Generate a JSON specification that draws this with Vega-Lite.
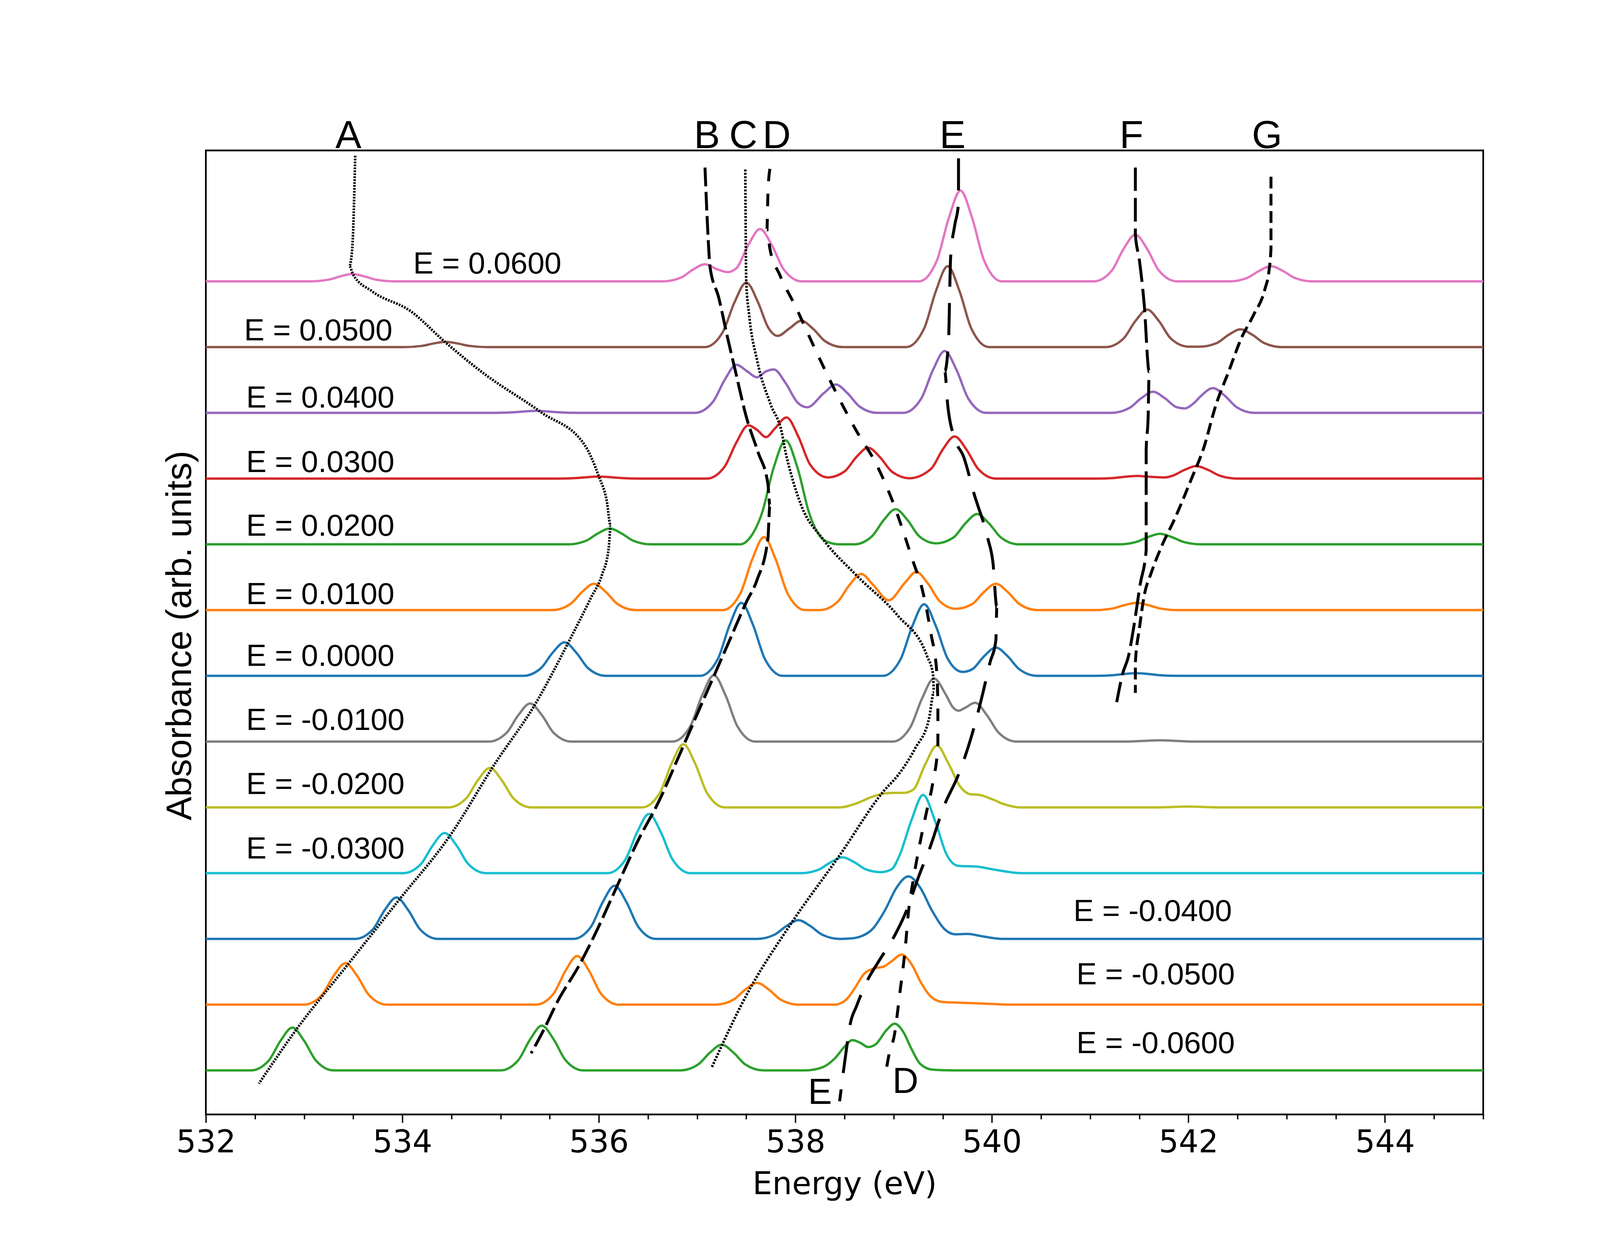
{
  "$schema": "https://vega.github.io/schema/vega-lite/v6.json",
  "width": 3270,
  "height": 2467,
  "autosize": {"type": "none"},
  "padding": {"left": 527, "top": 385, "right": 422, "bottom": 352},
  "background": "white",
  "config": {
    "view": {"stroke": "black", "strokeWidth": 4.3}
  },
  "datasets": {
    "spectra": [
      {"E":"0.0600","energy":532,"absorbance":12},{"E":"0.0600","energy":533.07,"absorbance":12},{"E":"0.0600","energy":533.25,"absorbance":12.025},{"E":"0.0600","energy":533.37,"absorbance":12.076},{"E":"0.0600","energy":533.49,"absorbance":12.11},{"E":"0.0600","energy":533.61,"absorbance":12.076},{"E":"0.0600","energy":533.73,"absorbance":12.025},{"E":"0.0600","energy":533.91,"absorbance":12},
      {"E":"0.0600","energy":536.66,"absorbance":12},{"E":"0.0600","energy":536.84,"absorbance":12.06},{"E":"0.0600","energy":536.96,"absorbance":12.18},{"E":"0.0600","energy":537.08,"absorbance":12.26},{"E":"0.0600","energy":537.2,"absorbance":12.186},{"E":"0.0600","energy":537.31,"absorbance":12.14},{"E":"0.0600","energy":537.4,"absorbance":12.2},{"E":"0.0600","energy":537.52,"absorbance":12.551},{"E":"0.0600","energy":537.64,"absorbance":12.795},{"E":"0.0600","energy":537.76,"absorbance":12.551},{"E":"0.0600","energy":537.88,"absorbance":12.183},{"E":"0.0600","energy":538.06,"absorbance":12},
      {"E":"0.0600","energy":539.26,"absorbance":12},{"E":"0.0600","energy":539.44,"absorbance":12.317},{"E":"0.0600","energy":539.56,"absorbance":12.956},{"E":"0.0600","energy":539.68,"absorbance":13.38},{"E":"0.0600","energy":539.8,"absorbance":12.956},{"E":"0.0600","energy":539.92,"absorbance":12.317},{"E":"0.0600","energy":540.1,"absorbance":12},
      {"E":"0.0600","energy":541.04,"absorbance":12},{"E":"0.0600","energy":541.22,"absorbance":12.163},{"E":"0.0600","energy":541.34,"absorbance":12.492},{"E":"0.0600","energy":541.46,"absorbance":12.71},{"E":"0.0600","energy":541.58,"absorbance":12.492},{"E":"0.0600","energy":541.7,"absorbance":12.163},{"E":"0.0600","energy":541.88,"absorbance":12},
      {"E":"0.0600","energy":542.42,"absorbance":12},{"E":"0.0600","energy":542.6,"absorbance":12.053},{"E":"0.0600","energy":542.72,"absorbance":12.159},{"E":"0.0600","energy":542.84,"absorbance":12.23},{"E":"0.0600","energy":542.96,"absorbance":12.159},{"E":"0.0600","energy":543.08,"absorbance":12.053},{"E":"0.0600","energy":543.26,"absorbance":12},{"E":"0.0600","energy":545,"absorbance":12},

      {"E":"0.0500","energy":532,"absorbance":11},{"E":"0.0500","energy":534.02,"absorbance":11},{"E":"0.0500","energy":534.2,"absorbance":11.018},{"E":"0.0500","energy":534.32,"absorbance":11.055},{"E":"0.0500","energy":534.44,"absorbance":11.08},{"E":"0.0500","energy":534.56,"absorbance":11.055},{"E":"0.0500","energy":534.68,"absorbance":11.018},{"E":"0.0500","energy":534.86,"absorbance":11},
      {"E":"0.0500","energy":537.08,"absorbance":11},{"E":"0.0500","energy":537.26,"absorbance":11.225},{"E":"0.0500","energy":537.38,"absorbance":11.68},{"E":"0.0500","energy":537.5,"absorbance":11.98},{"E":"0.0500","energy":537.62,"absorbance":11.68},{"E":"0.0500","energy":537.72,"absorbance":11.306},{"E":"0.0500","energy":537.82,"absorbance":11.17},{"E":"0.0500","energy":537.94,"absorbance":11.284},{"E":"0.0500","energy":538.06,"absorbance":11.4},{"E":"0.0500","energy":538.18,"absorbance":11.277},{"E":"0.0500","energy":538.3,"absorbance":11.092},{"E":"0.0500","energy":538.48,"absorbance":11},
      {"E":"0.0500","energy":539.13,"absorbance":11},{"E":"0.0500","energy":539.31,"absorbance":11.283},{"E":"0.0500","energy":539.43,"absorbance":11.852},{"E":"0.0500","energy":539.55,"absorbance":12.23},{"E":"0.0500","energy":539.67,"absorbance":11.852},{"E":"0.0500","energy":539.79,"absorbance":11.283},{"E":"0.0500","energy":539.97,"absorbance":11},
      {"E":"0.0500","energy":541.16,"absorbance":11},{"E":"0.0500","energy":541.34,"absorbance":11.131},{"E":"0.0500","energy":541.46,"absorbance":11.395},{"E":"0.0500","energy":541.58,"absorbance":11.57},{"E":"0.0500","energy":541.7,"absorbance":11.395},{"E":"0.0500","energy":541.82,"absorbance":11.131},{"E":"0.0500","energy":542,"absorbance":11.006},
      {"E":"0.0500","energy":542.11,"absorbance":11.005},{"E":"0.0500","energy":542.29,"absorbance":11.062},{"E":"0.0500","energy":542.41,"absorbance":11.187},{"E":"0.0500","energy":542.53,"absorbance":11.27},{"E":"0.0500","energy":542.65,"absorbance":11.187},{"E":"0.0500","energy":542.77,"absorbance":11.062},{"E":"0.0500","energy":542.95,"absorbance":11},{"E":"0.0500","energy":545,"absorbance":11},

      {"E":"0.0400","energy":532,"absorbance":10},{"E":"0.0400","energy":534.94,"absorbance":10},{"E":"0.0400","energy":535.12,"absorbance":10.007},{"E":"0.0400","energy":535.24,"absorbance":10.021},{"E":"0.0400","energy":535.36,"absorbance":10.03},{"E":"0.0400","energy":535.48,"absorbance":10.021},{"E":"0.0400","energy":535.6,"absorbance":10.007},{"E":"0.0400","energy":535.78,"absorbance":10},
      {"E":"0.0400","energy":536.98,"absorbance":10},{"E":"0.0400","energy":537.16,"absorbance":10.166},{"E":"0.0400","energy":537.28,"absorbance":10.5},{"E":"0.0400","energy":537.4,"absorbance":10.73},{"E":"0.0400","energy":537.51,"absorbance":10.63},{"E":"0.0400","energy":537.61,"absorbance":10.54},{"E":"0.0400","energy":537.7,"absorbance":10.63},{"E":"0.0400","energy":537.78,"absorbance":10.66},{"E":"0.0400","energy":537.9,"absorbance":10.454},{"E":"0.0400","energy":538.02,"absorbance":10.16},{"E":"0.0400","energy":538.12,"absorbance":10.085},{"E":"0.0400","energy":538.29,"absorbance":10.3},{"E":"0.0400","energy":538.41,"absorbance":10.43},{"E":"0.0400","energy":538.53,"absorbance":10.298},{"E":"0.0400","energy":538.65,"absorbance":10.099},{"E":"0.0400","energy":538.83,"absorbance":10},
      {"E":"0.0400","energy":539.1,"absorbance":10},{"E":"0.0400","energy":539.28,"absorbance":10.216},{"E":"0.0400","energy":539.4,"absorbance":10.651},{"E":"0.0400","energy":539.52,"absorbance":10.94},{"E":"0.0400","energy":539.64,"absorbance":10.651},{"E":"0.0400","energy":539.76,"absorbance":10.216},{"E":"0.0400","energy":539.94,"absorbance":10},
      {"E":"0.0400","energy":541.22,"absorbance":10},{"E":"0.0400","energy":541.4,"absorbance":10.074},{"E":"0.0400","energy":541.52,"absorbance":10.222},{"E":"0.0400","energy":541.64,"absorbance":10.32},{"E":"0.0400","energy":541.76,"absorbance":10.222},{"E":"0.0400","energy":541.88,"absorbance":10.085},{"E":"0.0400","energy":541.96,"absorbance":10.067},{"E":"0.0400","energy":542.06,"absorbance":10.153},{"E":"0.0400","energy":542.13,"absorbance":10.26},{"E":"0.0400","energy":542.25,"absorbance":10.375},{"E":"0.0400","energy":542.37,"absorbance":10.26},{"E":"0.0400","energy":542.49,"absorbance":10.086},{"E":"0.0400","energy":542.67,"absorbance":10},{"E":"0.0400","energy":545,"absorbance":10},

      {"E":"0.0300","energy":532,"absorbance":9},{"E":"0.0300","energy":535.58,"absorbance":9},{"E":"0.0300","energy":535.76,"absorbance":9.007},{"E":"0.0300","energy":535.88,"absorbance":9.021},{"E":"0.0300","energy":536,"absorbance":9.03},{"E":"0.0300","energy":536.12,"absorbance":9.021},{"E":"0.0300","energy":536.24,"absorbance":9.007},{"E":"0.0300","energy":536.42,"absorbance":9},
      {"E":"0.0300","energy":537.1,"absorbance":9},{"E":"0.0300","energy":537.28,"absorbance":9.183},{"E":"0.0300","energy":537.4,"absorbance":9.551},{"E":"0.0300","energy":537.52,"absorbance":9.81},{"E":"0.0300","energy":537.61,"absorbance":9.74},{"E":"0.0300","energy":537.7,"absorbance":9.63},{"E":"0.0300","energy":537.79,"absorbance":9.76},{"E":"0.0300","energy":537.91,"absorbance":9.93},{"E":"0.0300","energy":538.03,"absorbance":9.638},{"E":"0.0300","energy":538.15,"absorbance":9.212},{"E":"0.0300","energy":538.33,"absorbance":9.018},{"E":"0.0300","energy":538.5,"absorbance":9.108},{"E":"0.0300","energy":538.62,"absorbance":9.326},{"E":"0.0300","energy":538.74,"absorbance":9.47},{"E":"0.0300","energy":538.86,"absorbance":9.326},{"E":"0.0300","energy":538.98,"absorbance":9.108},{"E":"0.0300","energy":539.16,"absorbance":9.005},
      {"E":"0.0300","energy":539.38,"absorbance":9.147},{"E":"0.0300","energy":539.5,"absorbance":9.443},{"E":"0.0300","energy":539.62,"absorbance":9.64},{"E":"0.0300","energy":539.74,"absorbance":9.443},{"E":"0.0300","energy":539.86,"absorbance":9.147},{"E":"0.0300","energy":540.04,"absorbance":9},
      {"E":"0.0300","energy":541.06,"absorbance":9},{"E":"0.0300","energy":541.24,"absorbance":9.009},{"E":"0.0300","energy":541.36,"absorbance":9.028},{"E":"0.0300","energy":541.48,"absorbance":9.04},{"E":"0.0300","energy":541.6,"absorbance":9.028},{"E":"0.0300","energy":541.76,"absorbance":9.017},{"E":"0.0300","energy":541.84,"absorbance":9.044},{"E":"0.0300","energy":541.96,"absorbance":9.132},{"E":"0.0300","energy":542.08,"absorbance":9.19},{"E":"0.0300","energy":542.2,"absorbance":9.132},{"E":"0.0300","energy":542.32,"absorbance":9.044},{"E":"0.0300","energy":542.5,"absorbance":9},{"E":"0.0300","energy":545,"absorbance":9},

      {"E":"0.0200","energy":532,"absorbance":8},{"E":"0.0200","energy":535.69,"absorbance":8},{"E":"0.0200","energy":535.87,"absorbance":8.055},{"E":"0.0200","energy":535.99,"absorbance":8.166},{"E":"0.0200","energy":536.11,"absorbance":8.24},{"E":"0.0200","energy":536.23,"absorbance":8.166},{"E":"0.0200","energy":536.35,"absorbance":8.055},{"E":"0.0200","energy":536.53,"absorbance":8},
      {"E":"0.0200","energy":537.44,"absorbance":8},{"E":"0.0200","energy":537.54,"absorbance":8.106},{"E":"0.0200","energy":537.66,"absorbance":8.476},{"E":"0.0200","energy":537.78,"absorbance":9.171},{"E":"0.0200","energy":537.9,"absorbance":9.58},{"E":"0.0200","energy":538.02,"absorbance":9.171},{"E":"0.0200","energy":538.14,"absorbance":8.476},{"E":"0.0200","energy":538.26,"absorbance":8.106},{"E":"0.0200","energy":538.36,"absorbance":8.02},{"E":"0.0200","energy":538.44,"absorbance":8},
      {"E":"0.0200","energy":538.6,"absorbance":8},{"E":"0.0200","energy":538.78,"absorbance":8.123},{"E":"0.0200","energy":538.9,"absorbance":8.371},{"E":"0.0200","energy":539.02,"absorbance":8.535},{"E":"0.0200","energy":539.14,"absorbance":8.371},{"E":"0.0200","energy":539.26,"absorbance":8.123},{"E":"0.0200","energy":539.43,"absorbance":8.015},{"E":"0.0200","energy":539.61,"absorbance":8.106},{"E":"0.0200","energy":539.73,"absorbance":8.319},{"E":"0.0200","energy":539.85,"absorbance":8.46},{"E":"0.0200","energy":539.97,"absorbance":8.319},{"E":"0.0200","energy":540.09,"absorbance":8.106},{"E":"0.0200","energy":540.27,"absorbance":8},
      {"E":"0.0200","energy":541.29,"absorbance":8},{"E":"0.0200","energy":541.47,"absorbance":8.037},{"E":"0.0200","energy":541.59,"absorbance":8.111},{"E":"0.0200","energy":541.71,"absorbance":8.16},{"E":"0.0200","energy":541.83,"absorbance":8.111},{"E":"0.0200","energy":541.95,"absorbance":8.037},{"E":"0.0200","energy":542.13,"absorbance":8},{"E":"0.0200","energy":545,"absorbance":8},

      {"E":"0.0100","energy":532,"absorbance":7},{"E":"0.0100","energy":535.53,"absorbance":7},{"E":"0.0100","energy":535.71,"absorbance":7.092},{"E":"0.0100","energy":535.83,"absorbance":7.277},{"E":"0.0100","energy":535.95,"absorbance":7.4},{"E":"0.0100","energy":536.07,"absorbance":7.277},{"E":"0.0100","energy":536.19,"absorbance":7.092},{"E":"0.0100","energy":536.37,"absorbance":7},
      {"E":"0.0100","energy":537.26,"absorbance":7},{"E":"0.0100","energy":537.44,"absorbance":7.255},{"E":"0.0100","energy":537.56,"absorbance":7.769},{"E":"0.0100","energy":537.68,"absorbance":8.11},{"E":"0.0100","energy":537.8,"absorbance":7.769},{"E":"0.0100","energy":537.92,"absorbance":7.255},{"E":"0.0100","energy":538.1,"absorbance":7},
      {"E":"0.0100","energy":538.25,"absorbance":7},{"E":"0.0100","energy":538.43,"absorbance":7.127},{"E":"0.0100","energy":538.55,"absorbance":7.381},{"E":"0.0100","energy":538.67,"absorbance":7.55},{"E":"0.0100","energy":538.79,"absorbance":7.385},{"E":"0.0100","energy":538.95,"absorbance":7.15},{"E":"0.0100","energy":539.11,"absorbance":7.406},{"E":"0.0100","energy":539.23,"absorbance":7.58},{"E":"0.0100","energy":539.35,"absorbance":7.402},{"E":"0.0100","energy":539.47,"absorbance":7.133},{"E":"0.0100","energy":539.63,"absorbance":7.02},{"E":"0.0100","energy":539.8,"absorbance":7.092},{"E":"0.0100","energy":539.92,"absorbance":7.277},{"E":"0.0100","energy":540.04,"absorbance":7.4},{"E":"0.0100","energy":540.16,"absorbance":7.277},{"E":"0.0100","energy":540.28,"absorbance":7.092},{"E":"0.0100","energy":540.46,"absorbance":7},
      {"E":"0.0100","energy":541.05,"absorbance":7},{"E":"0.0100","energy":541.23,"absorbance":7.025},{"E":"0.0100","energy":541.35,"absorbance":7.076},{"E":"0.0100","energy":541.47,"absorbance":7.11},{"E":"0.0100","energy":541.59,"absorbance":7.076},{"E":"0.0100","energy":541.71,"absorbance":7.025},{"E":"0.0100","energy":541.89,"absorbance":7},{"E":"0.0100","energy":545,"absorbance":7},

      {"E":"0.0000","energy":532,"absorbance":6},{"E":"0.0000","energy":535.23,"absorbance":6},{"E":"0.0000","energy":535.41,"absorbance":6.117},{"E":"0.0000","energy":535.53,"absorbance":6.353},{"E":"0.0000","energy":535.65,"absorbance":6.51},{"E":"0.0000","energy":535.77,"absorbance":6.353},{"E":"0.0000","energy":535.89,"absorbance":6.117},{"E":"0.0000","energy":536.07,"absorbance":6},
      {"E":"0.0000","energy":537.03,"absorbance":6},{"E":"0.0000","energy":537.21,"absorbance":6.255},{"E":"0.0000","energy":537.33,"absorbance":6.769},{"E":"0.0000","energy":537.45,"absorbance":7.11},{"E":"0.0000","energy":537.57,"absorbance":6.769},{"E":"0.0000","energy":537.69,"absorbance":6.255},{"E":"0.0000","energy":537.87,"absorbance":6},
      {"E":"0.0000","energy":538.89,"absorbance":6},{"E":"0.0000","energy":539.07,"absorbance":6.251},{"E":"0.0000","energy":539.19,"absorbance":6.755},{"E":"0.0000","energy":539.31,"absorbance":7.09},{"E":"0.0000","energy":539.43,"absorbance":6.755},{"E":"0.0000","energy":539.55,"absorbance":6.26},{"E":"0.0000","energy":539.7,"absorbance":6.06},{"E":"0.0000","energy":539.8,"absorbance":6.1},{"E":"0.0000","energy":539.92,"absorbance":6.298},{"E":"0.0000","energy":540.04,"absorbance":6.43},{"E":"0.0000","energy":540.16,"absorbance":6.298},{"E":"0.0000","energy":540.28,"absorbance":6.099},{"E":"0.0000","energy":540.46,"absorbance":6},
      {"E":"0.0000","energy":541.05,"absorbance":6},{"E":"0.0000","energy":541.23,"absorbance":6.009},{"E":"0.0000","energy":541.35,"absorbance":6.028},{"E":"0.0000","energy":541.47,"absorbance":6.04},{"E":"0.0000","energy":541.59,"absorbance":6.028},{"E":"0.0000","energy":541.71,"absorbance":6.009},{"E":"0.0000","energy":541.89,"absorbance":6},{"E":"0.0000","energy":545,"absorbance":6},

      {"E":"-0.0100","energy":532,"absorbance":5},{"E":"-0.0100","energy":534.88,"absorbance":5},{"E":"-0.0100","energy":535.06,"absorbance":5.133},{"E":"-0.0100","energy":535.18,"absorbance":5.402},{"E":"-0.0100","energy":535.3,"absorbance":5.58},{"E":"-0.0100","energy":535.42,"absorbance":5.402},{"E":"-0.0100","energy":535.54,"absorbance":5.133},{"E":"-0.0100","energy":535.72,"absorbance":5},
      {"E":"-0.0100","energy":536.75,"absorbance":5},{"E":"-0.0100","energy":536.93,"absorbance":5.232},{"E":"-0.0100","energy":537.05,"absorbance":5.7},{"E":"-0.0100","energy":537.17,"absorbance":6.01},{"E":"-0.0100","energy":537.29,"absorbance":5.7},{"E":"-0.0100","energy":537.41,"absorbance":5.232},{"E":"-0.0100","energy":537.59,"absorbance":5},
      {"E":"-0.0100","energy":538.99,"absorbance":5},{"E":"-0.0100","energy":539.17,"absorbance":5.219},{"E":"-0.0100","energy":539.29,"absorbance":5.66},{"E":"-0.0100","energy":539.41,"absorbance":5.96},{"E":"-0.0100","energy":539.53,"absorbance":5.717},{"E":"-0.0100","energy":539.6,"absorbance":5.528},{"E":"-0.0100","energy":539.66,"absorbance":5.47},{"E":"-0.0100","energy":539.72,"absorbance":5.508},{"E":"-0.0100","energy":539.83,"absorbance":5.59},{"E":"-0.0100","energy":539.95,"absorbance":5.4},{"E":"-0.0100","energy":540.07,"absorbance":5.133},{"E":"-0.0100","energy":540.25,"absorbance":5},
      {"E":"-0.0100","energy":541.35,"absorbance":5},{"E":"-0.0100","energy":541.59,"absorbance":5.014},{"E":"-0.0100","energy":541.71,"absorbance":5.02},{"E":"-0.0100","energy":541.83,"absorbance":5.014},{"E":"-0.0100","energy":542.07,"absorbance":5},{"E":"-0.0100","energy":545,"absorbance":5},

      {"E":"-0.0200","energy":532,"absorbance":4},{"E":"-0.0200","energy":534.47,"absorbance":4},{"E":"-0.0200","energy":534.65,"absorbance":4.138},{"E":"-0.0200","energy":534.77,"absorbance":4.416},{"E":"-0.0200","energy":534.89,"absorbance":4.6},{"E":"-0.0200","energy":535.01,"absorbance":4.416},{"E":"-0.0200","energy":535.13,"absorbance":4.138},{"E":"-0.0200","energy":535.31,"absorbance":4},
      {"E":"-0.0200","energy":536.44,"absorbance":4},{"E":"-0.0200","energy":536.62,"absorbance":4.221},{"E":"-0.0200","energy":536.74,"absorbance":4.665},{"E":"-0.0200","energy":536.86,"absorbance":4.96},{"E":"-0.0200","energy":536.98,"absorbance":4.665},{"E":"-0.0200","energy":537.1,"absorbance":4.221},{"E":"-0.0200","energy":537.28,"absorbance":4},
      {"E":"-0.0200","energy":538.45,"absorbance":4},{"E":"-0.0200","energy":538.62,"absorbance":4.06},{"E":"-0.0200","energy":538.78,"absorbance":4.16},{"E":"-0.0200","energy":538.9,"absorbance":4.21},{"E":"-0.0200","energy":539,"absorbance":4.22},{"E":"-0.0200","energy":539.1,"absorbance":4.22},{"E":"-0.0200","energy":539.2,"absorbance":4.27},{"E":"-0.0200","energy":539.32,"absorbance":4.65},{"E":"-0.0200","energy":539.44,"absorbance":4.94},{"E":"-0.0200","energy":539.56,"absorbance":4.66},{"E":"-0.0200","energy":539.68,"absorbance":4.31},{"E":"-0.0200","energy":539.78,"absorbance":4.2},{"E":"-0.0200","energy":539.87,"absorbance":4.19},{"E":"-0.0200","energy":540,"absorbance":4.125},{"E":"-0.0200","energy":540.12,"absorbance":4.05},{"E":"-0.0200","energy":540.28,"absorbance":4},
      {"E":"-0.0200","energy":541.7,"absorbance":4},{"E":"-0.0200","energy":542,"absorbance":4.012},{"E":"-0.0200","energy":542.3,"absorbance":4},{"E":"-0.0200","energy":545,"absorbance":4},

      {"E":"-0.0300","energy":532,"absorbance":3},{"E":"-0.0300","energy":534.01,"absorbance":3},{"E":"-0.0300","energy":534.19,"absorbance":3.14},{"E":"-0.0300","energy":534.31,"absorbance":3.423},{"E":"-0.0300","energy":534.43,"absorbance":3.61},{"E":"-0.0300","energy":534.55,"absorbance":3.423},{"E":"-0.0300","energy":534.67,"absorbance":3.14},{"E":"-0.0300","energy":534.85,"absorbance":3},
      {"E":"-0.0300","energy":536.09,"absorbance":3},{"E":"-0.0300","energy":536.27,"absorbance":3.207},{"E":"-0.0300","energy":536.39,"absorbance":3.624},{"E":"-0.0300","energy":536.51,"absorbance":3.9},{"E":"-0.0300","energy":536.63,"absorbance":3.624},{"E":"-0.0300","energy":536.75,"absorbance":3.207},{"E":"-0.0300","energy":536.93,"absorbance":3},
      {"E":"-0.0300","energy":538.06,"absorbance":3},{"E":"-0.0300","energy":538.24,"absorbance":3.055},{"E":"-0.0300","energy":538.36,"absorbance":3.166},{"E":"-0.0300","energy":538.48,"absorbance":3.24},{"E":"-0.0300","energy":538.6,"absorbance":3.166},{"E":"-0.0300","energy":538.72,"absorbance":3.055},{"E":"-0.0300","energy":538.87,"absorbance":3.015},{"E":"-0.0300","energy":538.98,"absorbance":3.06},{"E":"-0.0300","energy":539.06,"absorbance":3.27},{"E":"-0.0300","energy":539.18,"absorbance":3.8},{"E":"-0.0300","energy":539.3,"absorbance":4.19},{"E":"-0.0300","energy":539.42,"absorbance":3.8},{"E":"-0.0300","energy":539.54,"absorbance":3.28},{"E":"-0.0300","energy":539.66,"absorbance":3.11},{"E":"-0.0300","energy":539.84,"absorbance":3.1},{"E":"-0.0300","energy":540,"absorbance":3.06},{"E":"-0.0300","energy":540.3,"absorbance":3},{"E":"-0.0300","energy":545,"absorbance":3},

      {"E":"-0.0400","energy":532,"absorbance":2},{"E":"-0.0400","energy":533.52,"absorbance":2},{"E":"-0.0400","energy":533.7,"absorbance":2.145},{"E":"-0.0400","energy":533.82,"absorbance":2.437},{"E":"-0.0400","energy":533.94,"absorbance":2.63},{"E":"-0.0400","energy":534.06,"absorbance":2.437},{"E":"-0.0400","energy":534.18,"absorbance":2.145},{"E":"-0.0400","energy":534.36,"absorbance":2},
      {"E":"-0.0400","energy":535.74,"absorbance":2},{"E":"-0.0400","energy":535.92,"absorbance":2.186},{"E":"-0.0400","energy":536.04,"absorbance":2.561},{"E":"-0.0400","energy":536.16,"absorbance":2.81},{"E":"-0.0400","energy":536.28,"absorbance":2.561},{"E":"-0.0400","energy":536.4,"absorbance":2.186},{"E":"-0.0400","energy":536.58,"absorbance":2},
      {"E":"-0.0400","energy":537.61,"absorbance":2},{"E":"-0.0400","energy":537.79,"absorbance":2.066},{"E":"-0.0400","energy":537.91,"absorbance":2.197},{"E":"-0.0400","energy":538.03,"absorbance":2.285},{"E":"-0.0400","energy":538.15,"absorbance":2.197},{"E":"-0.0400","energy":538.27,"absorbance":2.066},{"E":"-0.0400","energy":538.45,"absorbance":2},
      {"E":"-0.0400","energy":538.55,"absorbance":2.005},{"E":"-0.0400","energy":538.67,"absorbance":2.04},{"E":"-0.0400","energy":538.79,"absorbance":2.158},{"E":"-0.0400","energy":538.91,"absorbance":2.43},{"E":"-0.0400","energy":539.03,"absorbance":2.78},{"E":"-0.0400","energy":539.15,"absorbance":2.95},{"E":"-0.0400","energy":539.27,"absorbance":2.78},{"E":"-0.0400","energy":539.39,"absorbance":2.43},{"E":"-0.0400","energy":539.51,"absorbance":2.16},{"E":"-0.0400","energy":539.63,"absorbance":2.07},{"E":"-0.0400","energy":539.75,"absorbance":2.075},{"E":"-0.0400","energy":539.9,"absorbance":2.04},{"E":"-0.0400","energy":540.1,"absorbance":2},{"E":"-0.0400","energy":545,"absorbance":2},

      {"E":"-0.0500","energy":532,"absorbance":1},{"E":"-0.0500","energy":533,"absorbance":1},{"E":"-0.0500","energy":533.18,"absorbance":1.145},{"E":"-0.0500","energy":533.3,"absorbance":1.437},{"E":"-0.0500","energy":533.42,"absorbance":1.63},{"E":"-0.0500","energy":533.54,"absorbance":1.437},{"E":"-0.0500","energy":533.66,"absorbance":1.145},{"E":"-0.0500","energy":533.84,"absorbance":1},
      {"E":"-0.0500","energy":535.36,"absorbance":1},{"E":"-0.0500","energy":535.54,"absorbance":1.17},{"E":"-0.0500","energy":535.66,"absorbance":1.514},{"E":"-0.0500","energy":535.78,"absorbance":1.74},{"E":"-0.0500","energy":535.9,"absorbance":1.514},{"E":"-0.0500","energy":536.02,"absorbance":1.17},{"E":"-0.0500","energy":536.2,"absorbance":1},
      {"E":"-0.0500","energy":537.19,"absorbance":1},{"E":"-0.0500","energy":537.37,"absorbance":1.076},{"E":"-0.0500","energy":537.49,"absorbance":1.229},{"E":"-0.0500","energy":537.61,"absorbance":1.33},{"E":"-0.0500","energy":537.73,"absorbance":1.229},{"E":"-0.0500","energy":537.85,"absorbance":1.076},{"E":"-0.0500","energy":538.03,"absorbance":1},
      {"E":"-0.0500","energy":538.4,"absorbance":1},{"E":"-0.0500","energy":538.52,"absorbance":1.08},{"E":"-0.0500","energy":538.6,"absorbance":1.24},{"E":"-0.0500","energy":538.7,"absorbance":1.47},{"E":"-0.0500","energy":538.8,"absorbance":1.55},{"E":"-0.0500","energy":538.9,"absorbance":1.58},{"E":"-0.0500","energy":538.98,"absorbance":1.66},{"E":"-0.0500","energy":539.08,"absorbance":1.76},{"E":"-0.0500","energy":539.18,"absorbance":1.62},{"E":"-0.0500","energy":539.28,"absorbance":1.33},{"E":"-0.0500","energy":539.38,"absorbance":1.12},{"E":"-0.0500","energy":539.5,"absorbance":1.04},{"E":"-0.0500","energy":539.67,"absorbance":1.03},{"E":"-0.0500","energy":540,"absorbance":1.01},{"E":"-0.0500","energy":540.2,"absorbance":1},{"E":"-0.0500","energy":545,"absorbance":1},

      {"E":"-0.0600","energy":532,"absorbance":0},{"E":"-0.0600","energy":532.46,"absorbance":0},{"E":"-0.0600","energy":532.64,"absorbance":0.15},{"E":"-0.0600","energy":532.76,"absorbance":0.45},{"E":"-0.0600","energy":532.88,"absorbance":0.65},{"E":"-0.0600","energy":533,"absorbance":0.45},{"E":"-0.0600","energy":533.12,"absorbance":0.15},{"E":"-0.0600","energy":533.3,"absorbance":0},
      {"E":"-0.0600","energy":535,"absorbance":0},{"E":"-0.0600","energy":535.18,"absorbance":0.156},{"E":"-0.0600","energy":535.3,"absorbance":0.471},{"E":"-0.0600","energy":535.42,"absorbance":0.68},{"E":"-0.0600","energy":535.54,"absorbance":0.471},{"E":"-0.0600","energy":535.66,"absorbance":0.156},{"E":"-0.0600","energy":535.84,"absorbance":0},
      {"E":"-0.0600","energy":536.83,"absorbance":0},{"E":"-0.0600","energy":537.01,"absorbance":0.09},{"E":"-0.0600","energy":537.13,"absorbance":0.27},{"E":"-0.0600","energy":537.25,"absorbance":0.39},{"E":"-0.0600","energy":537.37,"absorbance":0.27},{"E":"-0.0600","energy":537.49,"absorbance":0.09},{"E":"-0.0600","energy":537.67,"absorbance":0},
      {"E":"-0.0600","energy":538.1,"absorbance":0},{"E":"-0.0600","energy":538.28,"absorbance":0.05},{"E":"-0.0600","energy":538.4,"absorbance":0.18},{"E":"-0.0600","energy":538.5,"absorbance":0.36},{"E":"-0.0600","energy":538.58,"absorbance":0.46},{"E":"-0.0600","energy":538.66,"absorbance":0.42},{"E":"-0.0600","energy":538.74,"absorbance":0.355},{"E":"-0.0600","energy":538.82,"absorbance":0.4},{"E":"-0.0600","energy":538.92,"absorbance":0.6},{"E":"-0.0600","energy":539.01,"absorbance":0.71},{"E":"-0.0600","energy":539.1,"absorbance":0.58},{"E":"-0.0600","energy":539.18,"absorbance":0.33},{"E":"-0.0600","energy":539.27,"absorbance":0.1},{"E":"-0.0600","energy":539.4,"absorbance":0.01},{"E":"-0.0600","energy":539.6,"absorbance":0},{"E":"-0.0600","energy":545,"absorbance":0}
    ],
    "guides": [
      {"line":"A","energy":533.52,"absorbance":13.91},{"line":"A","energy":533.49,"absorbance":12.5},{"line":"A","energy":533.46,"absorbance":12.23},{"line":"A","energy":533.5,"absorbance":12.1},{"line":"A","energy":533.69,"absorbance":11.85},{"line":"A","energy":534.08,"absorbance":11.55},{"line":"A","energy":534.44,"absorbance":11.07},{"line":"A","energy":534.8,"absorbance":10.63},{"line":"A","energy":535.41,"absorbance":10.01},{"line":"A","energy":535.86,"absorbance":9.5},{"line":"A","energy":536,"absorbance":9.03},{"line":"A","energy":536.08,"absorbance":8.66},{"line":"A","energy":536.12,"absorbance":8.28},{"line":"A","energy":536.1,"absorbance":7.94},{"line":"A","energy":536.03,"absorbance":7.53},{"line":"A","energy":535.92,"absorbance":7.19},{"line":"A","energy":535.69,"absorbance":6.51},{"line":"A","energy":535.36,"absorbance":5.59},{"line":"A","energy":534.94,"absorbance":4.66},{"line":"A","energy":534.48,"absorbance":3.56},{"line":"A","energy":533.97,"absorbance":2.6},{"line":"A","energy":533.45,"absorbance":1.62},{"line":"A","energy":532.92,"absorbance":0.62},{"line":"A","energy":532.54,"absorbance":-0.2},
      {"line":"B","energy":537.08,"absorbance":13.73},{"line":"B","energy":537.11,"absorbance":12.71},{"line":"B","energy":537.13,"absorbance":12.23},{"line":"B","energy":537.22,"absorbance":11.75},{"line":"B","energy":537.31,"absorbance":11.14},{"line":"B","energy":537.39,"absorbance":10.63},{"line":"B","energy":537.5,"absorbance":9.94},{"line":"B","energy":537.62,"absorbance":9.4},{"line":"B","energy":537.72,"absorbance":8.92},{"line":"B","energy":537.74,"absorbance":8.59},{"line":"B","energy":537.72,"absorbance":8.08},{"line":"B","energy":537.61,"absorbance":7.46},{"line":"B","energy":537.5,"absorbance":7.12},{"line":"B","energy":537.33,"absorbance":6.54},{"line":"B","energy":537.08,"absorbance":5.69},{"line":"B","energy":536.8,"absorbance":4.73},{"line":"B","energy":536.61,"absorbance":4.09},{"line":"B","energy":536.4,"absorbance":3.5},{"line":"B","energy":536.16,"absorbance":2.72},{"line":"B","energy":535.97,"absorbance":2.1},{"line":"B","energy":535.8,"absorbance":1.6},{"line":"B","energy":535.58,"absorbance":1.05},{"line":"B","energy":535.44,"absorbance":0.62},{"line":"B","energy":535.31,"absorbance":0.26},
      {"line":"C","energy":537.49,"absorbance":13.7},{"line":"C","energy":537.5,"absorbance":11.99},{"line":"C","energy":537.53,"absorbance":11.48},{"line":"C","energy":537.61,"absorbance":10.8},{"line":"C","energy":537.75,"absorbance":10.12},{"line":"C","energy":537.86,"absorbance":9.71},{"line":"C","energy":537.9,"absorbance":9.4},{"line":"C","energy":537.95,"absorbance":9.1},{"line":"C","energy":538.06,"absorbance":8.59},{"line":"C","energy":538.28,"absorbance":8.08},{"line":"C","energy":538.62,"absorbance":7.53},{"line":"C","energy":539.04,"absorbance":6.92},{"line":"C","energy":539.34,"absorbance":6.3},{"line":"C","energy":539.4,"absorbance":6.03},{"line":"C","energy":539.41,"absorbance":5.75},{"line":"C","energy":539.36,"absorbance":5.35},{"line":"C","energy":539.22,"absorbance":4.9},{"line":"C","energy":539.05,"absorbance":4.5},{"line":"C","energy":538.9,"absorbance":4.25},{"line":"C","energy":538.45,"absorbance":3.27},{"line":"C","energy":537.95,"absorbance":2.22},{"line":"C","energy":537.5,"absorbance":1.14},{"line":"C","energy":537.15,"absorbance":0.05},
      {"line":"D","energy":537.74,"absorbance":13.71},{"line":"D","energy":537.72,"absorbance":13.32},{"line":"D","energy":537.71,"absorbance":12.78},{"line":"D","energy":537.74,"absorbance":12.5},{"line":"D","energy":537.84,"absorbance":12.1},{"line":"D","energy":538,"absorbance":11.62},{"line":"D","energy":538.2,"absorbance":10.97},{"line":"D","energy":538.42,"absorbance":10.29},{"line":"D","energy":538.67,"absorbance":9.6},{"line":"D","energy":538.78,"absorbance":9.34},{"line":"D","energy":538.98,"absorbance":8.69},{"line":"D","energy":539.2,"absorbance":7.73},{"line":"D","energy":539.29,"absorbance":7.32},{"line":"D","energy":539.38,"absorbance":6.64},{"line":"D","energy":539.44,"absorbance":6.03},{"line":"D","energy":539.45,"absorbance":5.52},{"line":"D","energy":539.45,"absorbance":4.94},{"line":"D","energy":539.4,"absorbance":4.39},{"line":"D","energy":539.33,"absorbance":3.9},{"line":"D","energy":539.26,"absorbance":3.4},{"line":"D","energy":539.2,"absorbance":2.9},{"line":"D","energy":539.15,"absorbance":2.4},{"line":"D","energy":539.12,"absorbance":1.89},{"line":"D","energy":539.06,"absorbance":1.14},{"line":"D","energy":539.01,"absorbance":0.56},{"line":"D","energy":538.95,"absorbance":0.22},{"line":"D","energy":538.91,"absorbance":-0.13},
      {"line":"E","energy":539.66,"absorbance":13.87},{"line":"E","energy":539.66,"absorbance":13.19},{"line":"E","energy":539.62,"absorbance":12.84},{"line":"E","energy":539.58,"absorbance":12.37},{"line":"E","energy":539.57,"absorbance":11.82},{"line":"E","energy":539.56,"absorbance":11.14},{"line":"E","energy":539.52,"absorbance":10.63},{"line":"E","energy":539.55,"absorbance":10.12},{"line":"E","energy":539.62,"absorbance":9.61},{"line":"E","energy":539.71,"absorbance":9.34},{"line":"E","energy":539.82,"absorbance":8.76},{"line":"E","energy":539.96,"absorbance":8.08},{"line":"E","energy":540.01,"absorbance":7.73},{"line":"E","energy":540.05,"absorbance":7.05},{"line":"E","energy":540.04,"absorbance":6.54},{"line":"E","energy":539.98,"absorbance":6.2},{"line":"E","energy":539.9,"absorbance":5.69},{"line":"E","energy":539.79,"absorbance":5.07},{"line":"E","energy":539.66,"absorbance":4.5},{"line":"E","energy":539.51,"absorbance":4.01},{"line":"E","energy":539.37,"absorbance":3.39},{"line":"E","energy":539.26,"absorbance":2.97},{"line":"E","energy":539.12,"absorbance":2.39},{"line":"E","energy":539.01,"absorbance":2.05},{"line":"E","energy":538.84,"absorbance":1.64},{"line":"E","energy":538.74,"absorbance":1.39},{"line":"E","energy":538.62,"absorbance":0.97},{"line":"E","energy":538.56,"absorbance":0.72},{"line":"E","energy":538.51,"absorbance":0.22},{"line":"E","energy":538.45,"absorbance":-0.47},
      {"line":"F","energy":541.46,"absorbance":13.73},{"line":"F","energy":541.46,"absorbance":12.71},{"line":"F","energy":541.5,"absorbance":12.33},{"line":"F","energy":541.55,"absorbance":11.65},{"line":"F","energy":541.6,"absorbance":10.63},{"line":"F","energy":541.59,"absorbance":9.94},{"line":"F","energy":541.57,"absorbance":9.44},{"line":"F","energy":541.57,"absorbance":8.32},{"line":"F","energy":541.57,"absorbance":7.91},{"line":"F","energy":541.51,"absorbance":7.4},{"line":"F","energy":541.44,"absorbance":6.71},{"line":"F","energy":541.39,"absorbance":6.3},{"line":"F","energy":541.33,"absorbance":6.03},{"line":"F","energy":541.27,"absorbance":5.6},
      {"line":"G","energy":542.84,"absorbance":13.59},{"line":"G","energy":542.84,"absorbance":12.5},{"line":"G","energy":542.82,"absorbance":12.16},{"line":"G","energy":542.78,"absorbance":11.89},{"line":"G","energy":542.66,"absorbance":11.48},{"line":"G","energy":542.54,"absorbance":11.14},{"line":"G","energy":542.41,"absorbance":10.63},{"line":"G","energy":542.28,"absorbance":10.12},{"line":"G","energy":542.15,"absorbance":9.44},{"line":"G","energy":542.04,"absorbance":9.03},{"line":"G","energy":541.87,"absorbance":8.42},{"line":"G","energy":541.71,"absorbance":7.91},{"line":"G","energy":541.62,"absorbance":7.56},{"line":"G","energy":541.55,"absorbance":7.22},{"line":"G","energy":541.5,"absorbance":6.71},{"line":"G","energy":541.46,"absorbance":6.2},{"line":"G","energy":541.46,"absorbance":5.74}
    ],
    "labels": [
      {"label":"E = 0.0600","energy":534.11,"absorbance":12.12},
      {"label":"E = 0.0500","energy":532.39,"absorbance":11.1},
      {"label":"E = 0.0400","energy":532.41,"absorbance":10.08},
      {"label":"E = 0.0300","energy":532.41,"absorbance":9.1},
      {"label":"E = 0.0200","energy":532.41,"absorbance":8.13},
      {"label":"E = 0.0100","energy":532.41,"absorbance":7.09},
      {"label":"E = 0.0000","energy":532.41,"absorbance":6.15},
      {"label":"E = -0.0100","energy":532.41,"absorbance":5.18},
      {"label":"E = -0.0200","energy":532.41,"absorbance":4.2},
      {"label":"E = -0.0300","energy":532.41,"absorbance":3.22},
      {"label":"E = -0.0400","energy":540.83,"absorbance":2.27},
      {"label":"E = -0.0500","energy":540.86,"absorbance":1.31},
      {"label":"E = -0.0600","energy":540.86,"absorbance":0.26}
    ],
    "letters": [
      {"letter":"A","energy":533.45,"absorbance":14.025},
      {"letter":"B","energy":537.1,"absorbance":14.025},
      {"letter":"C","energy":537.47,"absorbance":14.025},
      {"letter":"D","energy":537.81,"absorbance":14.025},
      {"letter":"E","energy":539.6,"absorbance":14.025},
      {"letter":"F","energy":541.42,"absorbance":14.025},
      {"letter":"G","energy":542.8,"absorbance":14.025}
    ],
    "bottomLetters": [
      {"letter":"E","energy":538.25,"absorbance":-0.509},
      {"letter":"D","energy":539.12,"absorbance":-0.342}
    ]
  },
  "encoding": {
    "x": {
      "field": "energy",
      "type": "quantitative",
      "scale": {"domain": [532, 545], "nice": false, "zero": false},
      "axis": {
        "title": "Energy (eV)",
        "values": [532, 532.5, 533, 533.5, 534, 534.5, 535, 535.5, 536, 536.5, 537, 537.5, 538, 538.5, 539, 539.5, 540, 540.5, 541, 541.5, 542, 542.5, 543, 543.5, 544, 544.5, 545],
        "labelExpr": "datum.value % 2 === 0 ? format(datum.value, 'd') : ''",
        "tickSize": {"condition": {"test": "datum.value % 2 === 0", "value": 21}, "value": 12},
        "tickWidth": 3.5,
        "tickColor": "black",
        "domain": false,
        "grid": false,
        "labelFont": "DejaVu Sans",
        "labelFontSize": 80,
        "labelColor": "black",
        "labelPadding": 12,
        "labelFlush": false,
        "labelOverlap": false,
        "titleFont": "DejaVu Sans",
        "titleFontSize": 80,
        "titleFontWeight": "normal",
        "titleColor": "black",
        "titleBaseline": "alphabetic",
        "titleY": 203
      }
    },
    "y": {
      "field": "absorbance",
      "type": "quantitative",
      "scale": {"domain": [-0.67, 13.99], "nice": false, "zero": false},
      "axis": {
        "title": "Absorbance (arb. units)",
        "ticks": false,
        "labels": false,
        "domain": false,
        "grid": false,
        "titleFont": "Liberation Sans",
        "titleFontSize": 91,
        "titleFontWeight": "normal",
        "titleColor": "black",
        "titleAngle": 270,
        "titleAlign": "center",
        "titleBaseline": "alphabetic",
        "titleX": -39,
        "titleY": 1241
      }
    }
  },
  "layer": [
    {
      "data": {"name": "spectra"},
      "mark": {"type": "line", "interpolate": "monotone", "strokeWidth": 6},
      "encoding": {
        "color": {
          "field": "E",
          "type": "nominal",
          "legend": null,
          "scale": {
            "domain": ["0.0000", "0.0100", "0.0200", "0.0300", "0.0400", "0.0500", "0.0600", "-0.0100", "-0.0200", "-0.0300", "-0.0400", "-0.0500", "-0.0600"],
            "range": ["#1f77b4", "#ff7f0e", "#2ca02c", "#d62728", "#9467bd", "#8c564b", "#e377c2", "#7f7f7f", "#bcbd22", "#17becf", "#1f77b4", "#ff7f0e", "#2ca02c"]
          }
        }
      }
    },
    {
      "data": {"name": "guides"},
      "transform": [{"filter": {"field": "line", "oneOf": ["A", "C"]}}],
      "mark": {"type": "line", "color": "black", "strokeWidth": 6.5, "interpolate": "monotone"},
      "encoding": {
        "detail": {"field": "line", "type": "nominal"},
        "order": {"value": null},
        "strokeDash": {
          "field": "line",
          "type": "nominal",
          "legend": null,
          "scale": {
            "domain": ["A", "B", "C", "D", "E", "F", "G"],
            "range": [[4.5, 3], [48, 14], [5, 3.5], [32, 32], [82, 42], [60, 18], [30, 14]]
          }
        }
      }
    },
    {
      "data": {"name": "guides"},
      "transform": [{"filter": {"field": "line", "oneOf": ["B", "D", "E", "F", "G"]}}],
      "mark": {"type": "line", "color": "black", "strokeWidth": 7.5, "interpolate": "monotone"},
      "encoding": {
        "detail": {"field": "line", "type": "nominal"},
        "order": {"value": null},
        "strokeDash": {
          "field": "line",
          "type": "nominal",
          "legend": null,
          "scale": {
            "domain": ["A", "B", "C", "D", "E", "F", "G"],
            "range": [[4.5, 3], [48, 14], [5, 3.5], [32, 32], [82, 42], [60, 18], [30, 14]]
          }
        }
      }
    },
    {
      "data": {"name": "labels"},
      "mark": {"type": "text", "align": "left", "baseline": "alphabetic", "font": "Liberation Sans", "fontSize": 78, "color": "black"},
      "encoding": {"text": {"field": "label", "type": "nominal"}}
    },
    {
      "data": {"name": "letters"},
      "mark": {"type": "text", "align": "center", "baseline": "alphabetic", "font": "Liberation Sans", "fontSize": 100, "color": "black"},
      "encoding": {"text": {"field": "letter", "type": "nominal"}}
    },
    {
      "data": {"name": "bottomLetters"},
      "mark": {"type": "text", "align": "center", "baseline": "alphabetic", "font": "Liberation Sans", "fontSize": 92, "color": "black"},
      "encoding": {"text": {"field": "letter", "type": "nominal"}}
    }
  ]
}
